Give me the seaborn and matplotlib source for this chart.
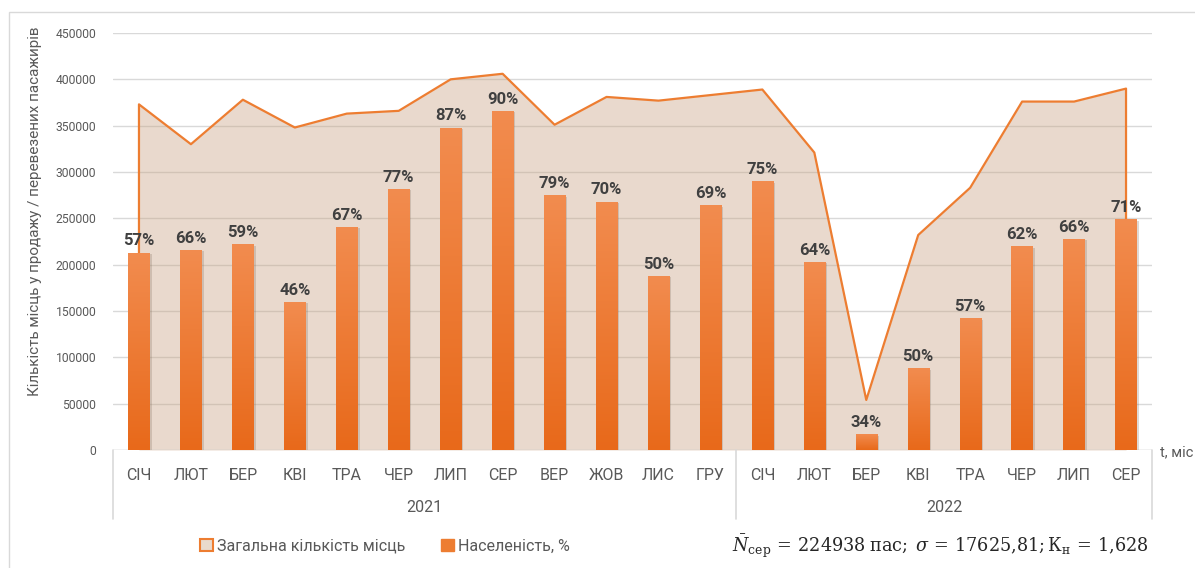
import numpy as np
import pandas as pd
import matplotlib
matplotlib.use("Agg")
import matplotlib.pyplot as plt
import matplotlib.patheffects as pe
from matplotlib.patches import Patch, Rectangle
from matplotlib.colors import LinearSegmentedColormap
import seaborn as sns

# ── дані ──────────────────────────────────────────────────────────────────
months = ["СІЧ", "ЛЮТ", "БЕР", "КВІ", "ТРА", "ЧЕР", "ЛИП", "СЕР", "ВЕР", "ЖОВ", "ЛИС", "ГРУ",
          "СІЧ", "ЛЮТ", "БЕР", "КВІ", "ТРА", "ЧЕР", "ЛИП", "СЕР"]
years = ["2021"] * 12 + ["2022"] * 8

# загальна кількість місць (площа)
total_seats = [373000, 330000, 378000, 348000, 363000, 366000, 400000, 406000, 351000, 381000, 377000, 383000,
               389000, 321000, 54000, 232000, 283000, 376000, 376000, 390000]

# перевезені пасажири (стовпці)
passengers = [213000, 216000, 222000, 160000, 241000, 282000, 348000, 366000, 275000, 268000, 188000, 264000,
              290000, 203000, 17000, 88000, 142000, 220000, 228000, 249000]

# населеність, %
occupancy = [57, 66, 59, 46, 67, 77, 87, 90, 79, 70, 50, 69,
             75, 64, 34, 50, 57, 62, 66, 71]

df = pd.DataFrame({"month": months, "year": years, "seats": total_seats,
                   "pax": passengers, "occ": occupancy})
df["key"] = df["month"] + " " + df["year"]

# ── стиль ─────────────────────────────────────────────────────────────────
sns.set_theme(style="white")
plt.rcParams["font.family"] = ["Roboto", "DejaVu Sans"]
plt.rcParams["mathtext.fontset"] = "dejavuserif"

orange = "#ED7D31"
grey_txt = "#595959"
grid_col = "#D9D9D9"

W, H = 1195, 568
fig = plt.figure(figsize=(W / 100, H / 100), dpi=100)
ax = fig.add_axes([113 / W, 1 - 450 / H, (1152 - 113) / W, (450 - 33) / H])

n = len(df)
x = np.arange(n)

# площа загальної кількості місць
ax.fill_between(x, df["seats"], color="#C9A283", alpha=0.4, lw=0, zorder=1)
ax.plot(np.r_[0, x, n - 1], np.r_[0, df["seats"], 0], color=orange, lw=1.6, zorder=2.5)

# стовпці пасажирів
sns.barplot(data=df, x="key", y="pax", order=df["key"], color=orange, width=0.41,
            saturation=1, ax=ax, zorder=3, edgecolor="none", linewidth=0)

# градієнт на стовпцях
cmap = LinearSegmentedColormap.from_list("bar", ["#E8691A", "#F28C4F"])
grad = np.linspace(0, 1, 256).reshape(-1, 1)
for p in ax.patches:
    p.set_path_effects([pe.SimplePatchShadow(offset=(1.5, -1), alpha=0.25, shadow_rgbFace="#7F6A5A"),
                        pe.Normal()])
    x0, w, h = p.get_x(), p.get_width(), p.get_height()
    im = ax.imshow(grad, extent=[x0, x0 + w, 0, h], aspect="auto", cmap=cmap,
                   origin="lower", zorder=3.1, interpolation="bilinear")
    im.set_clip_path(p)

ax.bar_label(ax.containers[0], labels=[f"{v}%" for v in df["occ"]], padding=3,
             fontsize=12, fontweight="bold", color="#404040", zorder=5)

ax.set_xlim(-0.5, n - 0.5)
ax.set_ylim(0, 450000)
ax.set_yticks(np.arange(0, 450001, 50000))
ax.yaxis.grid(True, color=grid_col, lw=1, zorder=0)
ax.set_axisbelow(True)
for s in ax.spines.values():
    s.set_visible(False)
ax.axhline(0, color=grid_col, lw=1, zorder=2)

ax.set_xticks(x)
ax.set_xticklabels(df["month"])
ax.tick_params(axis="x", length=0, pad=13, labelsize=11.5, labelcolor=grey_txt)
ax.tick_params(axis="y", length=0, pad=12, labelsize=8.7, labelcolor=grey_txt)
ax.set_xlabel("")
ax.set_ylabel("")

# групування за роками
tr = ax.get_xaxis_transform()
for xs in [-0.5, 11.5, n - 0.5]:
    ax.plot([xs, xs], [0, -69 / 417], color=grid_col, lw=1.2, transform=tr, clip_on=False)
ax.text(5.5, -58 / 417, "2021", transform=tr, ha="center", va="center", fontsize=11.5, color=grey_txt)
ax.text(15.5, -58 / 417, "2022", transform=tr, ha="center", va="center", fontsize=11.5, color=grey_txt)

fig.text(1160 / W, 1 - 452 / H, "t, міс", ha="left", va="center", fontsize=10.5, color=grey_txt)
fig.text(35 / W, 1 - 211 / H, "Кількість місць у продажу / перевезених пасажирів",
         rotation=90, ha="center", va="center", fontsize=11, color=grey_txt)

# легенда
handles = [Patch(facecolor="#E9DACD", edgecolor=orange, lw=1.5, label="Загальна кількість місць"),
           Patch(facecolor=orange, edgecolor=orange, label="Населеність, %")]
fig.legend(handles=handles, loc="center", bbox_to_anchor=(385 / W, 1 - 546 / H), ncol=2,
           frameon=False, fontsize=11.5, handlelength=0.8, handleheight=0.8,
           handletextpad=0.3, columnspacing=2.2, labelcolor=grey_txt)

fig.text(940 / W, 1 - 546 / H,
         r"$\bar{N}_{\mathrm{сер}}\,=\,224938\;\mathrm{пас};\;\sigma\,=\,17625{,}81;\mathrm{К}_{\mathrm{н}}\,=\,1{,}628$",
         ha="center", va="center", fontsize=12.7, color="#262626")

# рамка діаграми
fig.patches.append(Rectangle((9 / W, -0.1), 1.2, 1.1 - 12 / H, transform=fig.transFigure,
                             fill=False, edgecolor=grid_col, lw=1))

fig.savefig("out.png", dpi=100)
